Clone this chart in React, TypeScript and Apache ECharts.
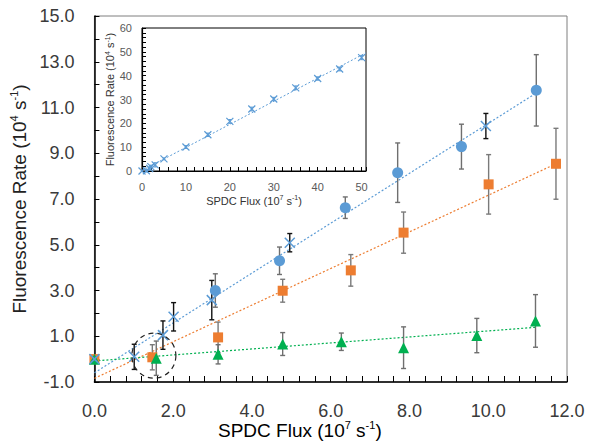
import React, { useEffect, useRef } from "react";
import * as echarts from "echarts";

// ---------- data ----------
const blueCircleX = [3.07, 4.7, 6.37, 7.7, 9.32, 11.22];
const blueCircleY = [3.0, 4.3, 6.62, 8.15, 9.29, 11.75];
const blueCircleErr = [0.73, 0.6, 0.47, 1.3, 0.98, 1.56];

const blueCrossX = [0, 1.01, 1.74, 2.01, 2.98, 4.96, 9.94];
const blueCrossY = [0, 0.1, 1.05, 1.85, 2.58, 5.09, 10.19];
const blueCrossErr = [0, 0.55, 0.62, 0.62, 0.86, 0.4, 0.55];

const orangeX = [0, 1.47, 3.14, 4.78, 6.51, 7.85, 10.01, 11.72];
const orangeY = [0, 0.08, 0.95, 2.99, 3.88, 5.53, 7.64, 8.54];
const orangeErr = [0, 0.55, 0.67, 0.5, 0.69, 0.9, 1.3, 1.55];

const greenX = [0, 1.57, 3.14, 4.78, 6.27, 7.85, 9.71, 11.2];
const greenY = [0, 0.04, 0.21, 0.66, 0.76, 0.5, 1.03, 1.67];
const greenErr = [0, 0.75, 0.42, 0.5, 0.38, 0.91, 0.75, 1.15];

// trend line end points
const blueTrendX = [0, 11.3];
const blueTrendY = [-0.6, 11.72];
const orangeTrendX = [0, 11.72];
const orangeTrendY = [-0.84, 8.54];
const greenTrendX = [0, 11.2];
const greenTrendY = [-0.08, 1.39];

// highlighted region (dashed circle)
const highlightX = [1.51];
const highlightY = [0.15];

// inset
const insetX = [0, 1.0, 1.74, 2.0, 3.0, 5.0, 10, 15, 20, 25, 30, 35, 40, 45, 50];
const insetY = [0, 0.1, 1.05, 1.85, 2.58, 5.09, 10.05, 15.2, 20.8, 26.0, 30.2, 34.9, 38.8, 42.8, 47.6];
const insetErr = [0, 0.5, 0.6, 0.6, 0.9, 0.4, 0.6, 0.7, 0.8, 0.8, 0.7, 0.8, 0.7, 0.8, 0.9];
const insetTrendX = [0, 51];
const insetTrendY = [0.2, 49.6];

// ---------- styling ----------
const FONT = "Liberation Sans";
const BLUE = "#5B9BD5";
const ORANGE = "#ED7D31";
const GREEN = "#00B050";
const CROSS = "path://M0,0L10,10M10,0L0,10";

const zip2 = (xs: number[], ys: number[]) => xs.map((x, i) => [x, ys[i]]);
const zip3 = (xs: number[], ys: number[], es: number[]) =>
  xs.map((x, i) => [x, ys[i], es[i]]).filter((d) => d[2] > 0);

const errRender = (color: string, cap: number, lw: number) => (params: any, api: any) => {
  const x = api.value(0);
  const y = api.value(1);
  const e = api.value(2);
  const t = api.coord([x, y + e]);
  const b = api.coord([x, y - e]);
  const style = { stroke: color, lineWidth: lw };
  return {
    type: "group",
    children: [
      { type: "line", shape: { x1: t[0], y1: t[1], x2: b[0], y2: b[1] }, style },
      { type: "line", shape: { x1: t[0] - cap, y1: t[1], x2: t[0] + cap, y2: t[1] }, style },
      { type: "line", shape: { x1: b[0] - cap, y1: b[1], x2: b[0] + cap, y2: b[1] }, style },
    ],
  };
};

const richMain = {
  n: { fontSize: 19, fontFamily: FONT, color: "#222", lineHeight: 22 },
  s: { fontSize: 11, fontFamily: FONT, color: "#222", lineHeight: 12, verticalAlign: "top" },
};
const richInset = {
  n: { fontSize: 11, fontFamily: FONT, color: "#333", lineHeight: 13 },
  s: { fontSize: 7, fontFamily: FONT, color: "#333", lineHeight: 7, verticalAlign: "top" },
};

const isMultiple = (v: number, m: number) => Math.abs(v / m - Math.round(v / m)) < 1e-6;

export default function App() {
  const ref = useRef<HTMLDivElement>(null);
  useEffect(() => {
    if (!ref.current) return;
    const chart = echarts.init(ref.current, undefined, { renderer: "svg" });
    const option: any = {
      animation: false,
      backgroundColor: "#fff",
      grid: [
        {
          left: 90,
          top: 16,
          width: 477,
          height: 366,
          show: true,
          borderColor: "#7f7f7f",
          borderWidth: 1,
          backgroundColor: "transparent",
        },
        {
          left: 142,
          top: 28,
          width: 224,
          height: 143,
          show: true,
          borderColor: "#000",
          borderWidth: 1,
          backgroundColor: "#fff",
        },
      ],
      xAxis: [
        {
          type: "value",
          gridIndex: 0,
          min: 0,
          max: 12,
          interval: 0.4,
          axisLine: { show: true, onZero: false, lineStyle: { color: "#000", width: 1.5 } },
          axisTick: { show: true, inside: true, length: 6, lineStyle: { color: "#000", width: 1 } },
          splitLine: { show: false },
          axisLabel: {
            margin: 20,
            fontSize: 18,
            fontFamily: FONT,
            color: "#3a3a3a",
            formatter: (v: number) => (isMultiple(v, 2) ? v.toFixed(1) : ""),
          },
        },
        {
          type: "value",
          gridIndex: 1,
          min: 0,
          max: 51,
          interval: 2,
          axisLine: { show: true, onZero: false, lineStyle: { color: "#000", width: 1.2 } },
          axisTick: { show: true, inside: true, length: 4, lineStyle: { color: "#000", width: 1 } },
          splitLine: { show: false },
          axisLabel: {
            margin: 10,
            fontSize: 11,
            fontFamily: FONT,
            color: "#595959",
            formatter: (v: number) => (isMultiple(v, 10) ? String(Math.round(v)) : ""),
          },
          name: "{n|SPDC Flux (10}{s|7}{n| s}{s|-1}{n|)}",
          nameLocation: "middle",
          nameGap: 23,
          nameTextStyle: { rich: richInset },
        },
      ],
      yAxis: [
        {
          type: "value",
          gridIndex: 0,
          min: -1,
          max: 15,
          interval: 1,
          axisLine: { show: true, onZero: false, lineStyle: { color: "#000", width: 1.5 } },
          axisTick: { show: true, inside: true, length: 5, lineStyle: { color: "#000", width: 1 } },
          splitLine: { show: false },
          axisLabel: {
            margin: 20,
            fontSize: 18,
            fontFamily: FONT,
            color: "#3a3a3a",
            formatter: (v: number) => (Math.round(v) % 2 !== 0 ? v.toFixed(1) : ""),
          },
          name: "{n|Fluorescence Rate (10}{s|4}{n| s}{s|-1}{n|)}",
          nameLocation: "middle",
          nameGap: 45,
          nameTextStyle: { rich: richMain },
        },
        {
          type: "value",
          gridIndex: 1,
          min: 0,
          max: 60,
          interval: 2,
          axisLine: { show: true, onZero: false, lineStyle: { color: "#000", width: 1.2 } },
          axisTick: { show: true, inside: true, length: 4, lineStyle: { color: "#000", width: 1 } },
          splitLine: { show: false },
          axisLabel: {
            margin: 10,
            fontSize: 11,
            fontFamily: FONT,
            color: "#595959",
            formatter: (v: number) => (isMultiple(v, 10) ? String(Math.round(v)) : ""),
          },
          name: "{n|Fluorescence Rate (10}{s|4}{n| s}{s|-1}{n|)}",
          nameLocation: "middle",
          nameGap: 15,
          nameTextStyle: { rich: richInset },
        },
      ],
      graphic: [
        {
          type: "text",
          left: 218,
          top: 419,
          style: { text: "{n|SPDC Flux (10}{s|7}{n| s}{s|-1}{n|)}", rich: richMain },
        },
      ],
      series: [
        // trend lines
        {
          type: "line",
          xAxisIndex: 0,
          yAxisIndex: 0,
          data: zip2(blueTrendX, blueTrendY),
          symbol: "none",
          lineStyle: { color: BLUE, width: 1.2, type: [2, 2] },
          z: 1,
        },
        {
          type: "line",
          xAxisIndex: 0,
          yAxisIndex: 0,
          data: zip2(orangeTrendX, orangeTrendY),
          symbol: "none",
          lineStyle: { color: ORANGE, width: 1.2, type: [2, 2] },
          z: 1,
        },
        {
          type: "line",
          xAxisIndex: 0,
          yAxisIndex: 0,
          data: zip2(greenTrendX, greenTrendY),
          symbol: "none",
          lineStyle: { color: GREEN, width: 1.2, type: [2, 2] },
          z: 1,
        },
        // error bars
        {
          type: "custom",
          xAxisIndex: 0,
          yAxisIndex: 0,
          data: zip3(blueCircleX, blueCircleY, blueCircleErr),
          encode: { x: 0, y: 1 },
          renderItem: errRender("#6f6f6f", 2.5, 1.4),
          z: 2,
        },
        {
          type: "custom",
          xAxisIndex: 0,
          yAxisIndex: 0,
          data: zip3(orangeX, orangeY, orangeErr),
          encode: { x: 0, y: 1 },
          renderItem: errRender("#7a7a7a", 2.5, 1.4),
          z: 2,
        },
        {
          type: "custom",
          xAxisIndex: 0,
          yAxisIndex: 0,
          data: zip3(greenX, greenY, greenErr),
          encode: { x: 0, y: 1 },
          renderItem: errRender("#6f6f6f", 2.5, 1.4),
          z: 2,
        },
        {
          type: "custom",
          xAxisIndex: 0,
          yAxisIndex: 0,
          data: zip3(blueCrossX, blueCrossY, blueCrossErr),
          encode: { x: 0, y: 1 },
          renderItem: errRender("#111", 2.5, 1.4),
          z: 3,
        },
        // markers
        {
          type: "scatter",
          xAxisIndex: 0,
          yAxisIndex: 0,
          data: zip2(orangeX, orangeY),
          symbol: "rect",
          symbolSize: 10,
          itemStyle: { color: ORANGE, opacity: 1 },
          z: 4,
        },
        {
          type: "scatter",
          xAxisIndex: 0,
          yAxisIndex: 0,
          data: zip2(greenX, greenY),
          symbol: "triangle",
          symbolSize: [11, 11],
          itemStyle: { color: GREEN, opacity: 1 },
          z: 5,
        },
        {
          type: "scatter",
          xAxisIndex: 0,
          yAxisIndex: 0,
          data: zip2(blueCircleX, blueCircleY),
          symbol: "circle",
          symbolSize: 11,
          itemStyle: { color: BLUE, opacity: 1 },
          z: 4,
        },
        {
          type: "scatter",
          xAxisIndex: 0,
          yAxisIndex: 0,
          data: zip2(blueCrossX, blueCrossY),
          symbol: CROSS,
          symbolSize: 10,
          itemStyle: { color: "rgba(0,0,0,0)", borderColor: BLUE, borderWidth: 1.5, opacity: 1 },
          z: 6,
        },
        {
          type: "scatter",
          xAxisIndex: 0,
          yAxisIndex: 0,
          data: zip2(highlightX, highlightY),
          symbol: "circle",
          symbolSize: [44, 45],
          silent: true,
          itemStyle: {
            color: "rgba(0,0,0,0)",
            borderColor: "#222",
            borderWidth: 1.2,
            borderType: [5, 4],
            opacity: 1,
          },
          z: 7,
        },
        // inset
        {
          type: "line",
          xAxisIndex: 1,
          yAxisIndex: 1,
          data: zip2(insetTrendX, insetTrendY),
          symbol: "none",
          lineStyle: { color: BLUE, width: 1, type: [2, 2] },
          z: 3,
        },
        {
          type: "custom",
          xAxisIndex: 1,
          yAxisIndex: 1,
          data: zip3(insetX, insetY, insetErr),
          encode: { x: 0, y: 1 },
          renderItem: errRender(BLUE, 1.5, 1),
          z: 4,
        },
        {
          type: "scatter",
          xAxisIndex: 1,
          yAxisIndex: 1,
          data: zip2(insetX, insetY),
          symbol: CROSS,
          symbolSize: 7,
          itemStyle: { color: "rgba(0,0,0,0)", borderColor: BLUE, borderWidth: 1.2, opacity: 1 },
          z: 5,
        },
      ],
    };
    chart.setOption(option);
    return () => chart.dispose();
  }, []);
  return (
    <div
      ref={ref}
      style={{ position: "fixed", left: 0, top: 0, width: 596, height: 441 }}
    />
  );
}
